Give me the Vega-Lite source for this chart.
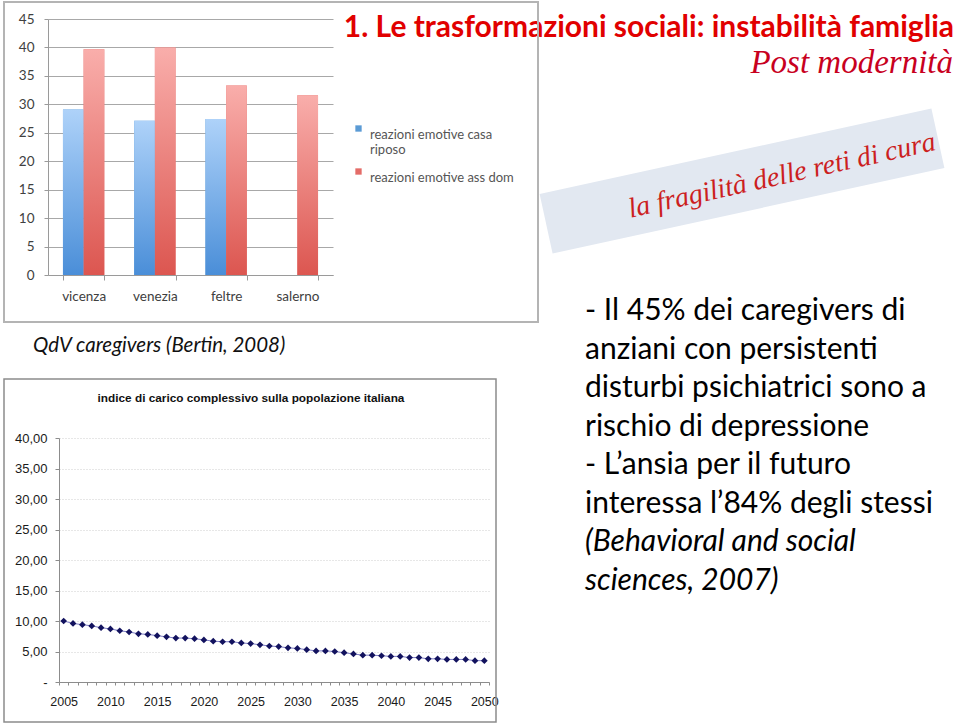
{
  "$schema": "https://vega.github.io/schema/vega-lite/v6.json",
  "width": 960,
  "height": 724,
  "padding": 0,
  "autosize": {"type": "none"},
  "background": "#ffffff",
  "config": {"view": {"stroke": null}},
  "layer": [
    {
      "data": {"values": [{"t": "la fragilità delle reti di cura"}]},
      "mark": {"type": "point", "shape": "M -1 -0.152 L 1 -0.152 L 1 0.152 L -1 0.152 Z", "filled": true, "fill": "#e2e8f1", "strokeWidth": 0, "opacity": 1, "size": 160801, "angle": -12.3},
      "encoding": {"x": {"value": 742}, "y": {"value": 181}}
    },
    {
      "data": {"values": [{"t": "la fragilità delle reti di cura"}]},
      "mark": {"type": "text", "font": "Liberation Serif", "fontStyle": "italic", "fontSize": 28, "fill": "#cc1f1f", "angle": -12.5, "align": "center", "baseline": "middle"},
      "encoding": {"x": {"value": 782}, "y": {"value": 176}, "text": {"field": "t"}}
    },
    {
      "data": {"values": [{"t": "1. Le trasformazioni sociali: instabilità famiglia"}]},
      "mark": {"type": "text", "font": "Lato", "fontWeight": "bold", "fontSize": 30, "fill": "#e10000", "align": "right", "baseline": "alphabetic"},
      "encoding": {"x": {"value": 954}, "y": {"value": 37}, "text": {"field": "t"}}
    },
    {
      "data": {"values": [{"t": "Post modernità"}]},
      "mark": {"type": "text", "font": "Liberation Serif", "fontStyle": "italic", "fontSize": 33, "fill": "#c8001e", "align": "right", "baseline": "alphabetic"},
      "encoding": {"x": {"value": 953}, "y": {"value": 73}, "text": {"field": "t"}}
    },
    {
      "data": {"values": [
        {"citta": "vicenza", "serie": "reazioni emotive casa riposo", "valore": 29.1},
        {"citta": "vicenza", "serie": "reazioni emotive ass dom", "valore": 39.7},
        {"citta": "venezia", "serie": "reazioni emotive casa riposo", "valore": 27.1},
        {"citta": "venezia", "serie": "reazioni emotive ass dom", "valore": 40.0},
        {"citta": "feltre", "serie": "reazioni emotive casa riposo", "valore": 27.4},
        {"citta": "feltre", "serie": "reazioni emotive ass dom", "valore": 33.3},
        {"citta": "salerno", "serie": "reazioni emotive ass dom", "valore": 31.6}
      ]},
      "encoding": {
        "x": {
          "field": "citta", "type": "nominal", "sort": ["vicenza", "venezia", "feltre", "salerno"],
          "scale": {"range": [48, 333], "paddingInner": 0.42, "paddingOuter": 0.21},
          "axis": {"orient": "bottom", "offset": -449, "title": null, "labelAngle": 0, "tickBand": "extent", "ticks": true, "tickSize": 5, "tickColor": "#9a9a9a", "domainColor": "#9a9a9a", "labelFont": "Lato", "labelFontSize": 13.5, "labelColor": "#404040", "labelPadding": 9, "grid": false}
        },
        "xOffset": {"field": "serie", "type": "nominal", "sort": ["reazioni emotive casa riposo", "reazioni emotive ass dom"], "scale": {"paddingInner": 0, "paddingOuter": 0}},
        "y": {
          "field": "valore", "type": "quantitative",
          "scale": {"domain": [0, 45], "range": [275, 19], "nice": false},
          "axis": {"orient": "left", "offset": -48, "title": null, "values": [0, 5, 10, 15, 20, 25, 30, 35, 40, 45], "grid": true, "gridColor": "#a8a8a8", "tickSize": 4, "tickColor": "#9a9a9a", "domainColor": "#9a9a9a", "labelFont": "Lato", "labelFontSize": 13.5, "labelColor": "#404040", "labelPadding": 10}
        }
      },
      "layer": [
        {
          "mark": {"type": "bar"},
          "encoding": {
            "color": {
              "field": "serie", "type": "nominal",
              "scale": {"domain": ["reazioni emotive casa riposo", "reazioni emotive ass dom"], "range": ["#5b9bd5", "#e46c68"]},
              "legend": {"title": null, "orient": "none", "legendX": 352, "legendY": 122, "symbolType": "square", "symbolSize": 40, "symbolStrokeWidth": 0, "labelFont": "Lato", "labelFontSize": 13, "labelColor": "#555555", "labelExpr": "datum.label == 'reazioni emotive casa riposo' ? ['reazioni emotive casa', 'riposo'] : datum.label", "labelBaseline": "top", "rowPadding": 8, "labelOffset": 5, "labelLimit": 300}
            }
          }
        },
        {
          "mark": {"type": "bar"},
          "encoding": {
            "color": {
              "condition": {"test": "datum.serie === 'reazioni emotive casa riposo'", "value": {"gradient": "linear", "x1": 0, "y1": 0, "x2": 0, "y2": 1, "stops": [{"offset": 0, "color": "#aed2f9"}, {"offset": 1, "color": "#4a8ed8"}]}},
              "value": {"gradient": "linear", "x1": 0, "y1": 0, "x2": 0, "y2": 1, "stops": [{"offset": 0, "color": "#f9aeab"}, {"offset": 1, "color": "#dc5650"}]}
            }
          }
        }
      ]
    },
    {
      "data": {"values": [{}]},
      "mark": {"type": "rect", "fill": "#ffffff", "fillOpacity": 0, "stroke": "#b4b4b4", "strokeWidth": 2},
      "encoding": {"x": {"value": 4}, "x2": {"value": 538}, "y": {"value": 2}, "y2": {"value": 322}}
    },
    {
      "data": {"values": [{"t": "QdV caregivers (Bertin, 2008)"}]},
      "mark": {"type": "text", "font": "Lato", "fontStyle": "italic", "fontSize": 20.5, "fill": "#111111", "align": "left", "baseline": "alphabetic"},
      "encoding": {"x": {"value": 33}, "y": {"value": 352}, "text": {"field": "t"}}
    },
    {
      "data": {"values": [{}]},
      "mark": {"type": "rect", "fill": "#ffffff", "fillOpacity": 0, "stroke": "#8c8c8c", "strokeWidth": 1.5},
      "encoding": {"x": {"value": 4}, "x2": {"value": 496}, "y": {"value": 379}, "y2": {"value": 722}}
    },
    {
      "data": {"values": [{"t": "indice di carico complessivo sulla popolazione italiana"}]},
      "mark": {"type": "text", "font": "Liberation Sans", "fontWeight": "bold", "fontSize": 11.8, "fill": "#111111", "align": "center", "baseline": "middle"},
      "encoding": {"x": {"value": 251}, "y": {"value": 398}, "text": {"field": "t"}}
    },
    {
      "data": {"values": [
        {"anno": 2005, "indice": 10.0}, {"anno": 2006, "indice": 9.6}, {"anno": 2007, "indice": 9.4}, {"anno": 2008, "indice": 9.2},
        {"anno": 2009, "indice": 8.9}, {"anno": 2010, "indice": 8.7}, {"anno": 2011, "indice": 8.4}, {"anno": 2012, "indice": 8.2},
        {"anno": 2013, "indice": 7.9}, {"anno": 2014, "indice": 7.8}, {"anno": 2015, "indice": 7.6}, {"anno": 2016, "indice": 7.4},
        {"anno": 2017, "indice": 7.2}, {"anno": 2018, "indice": 7.2}, {"anno": 2019, "indice": 7.1}, {"anno": 2020, "indice": 6.9},
        {"anno": 2021, "indice": 6.7}, {"anno": 2022, "indice": 6.6}, {"anno": 2023, "indice": 6.6}, {"anno": 2024, "indice": 6.4},
        {"anno": 2025, "indice": 6.3}, {"anno": 2026, "indice": 6.1}, {"anno": 2027, "indice": 5.9}, {"anno": 2028, "indice": 5.8},
        {"anno": 2029, "indice": 5.6}, {"anno": 2030, "indice": 5.5}, {"anno": 2031, "indice": 5.3}, {"anno": 2032, "indice": 5.1},
        {"anno": 2033, "indice": 5.1}, {"anno": 2034, "indice": 5.0}, {"anno": 2035, "indice": 4.8}, {"anno": 2036, "indice": 4.6},
        {"anno": 2037, "indice": 4.4}, {"anno": 2038, "indice": 4.4}, {"anno": 2039, "indice": 4.3}, {"anno": 2040, "indice": 4.2},
        {"anno": 2041, "indice": 4.2}, {"anno": 2042, "indice": 4.0}, {"anno": 2043, "indice": 4.0}, {"anno": 2044, "indice": 3.8},
        {"anno": 2045, "indice": 3.8}, {"anno": 2046, "indice": 3.7}, {"anno": 2047, "indice": 3.7}, {"anno": 2048, "indice": 3.7},
        {"anno": 2049, "indice": 3.5}, {"anno": 2050, "indice": 3.5}
      ]},
      "encoding": {
        "x": {
          "field": "anno", "type": "ordinal",
          "scale": {"type": "band", "range": [59, 489], "paddingInner": 0, "paddingOuter": 0},
          "axis": {"orient": "bottom", "offset": -42, "title": null, "tickBand": "extent", "ticks": true, "tickSize": 3, "tickColor": "#8c8c8c", "domainColor": "#8c8c8c", "labelAngle": 0, "labelExpr": "datum.value % 5 == 0 ? datum.value : ''", "labelFont": "Liberation Sans", "labelFontSize": 12.5, "labelColor": "#1a1a1a", "labelPadding": 10, "labelOverlap": false, "grid": false}
        },
        "y": {
          "field": "indice", "type": "quantitative",
          "scale": {"domain": [0, 40], "range": [682, 438], "nice": false},
          "axis": {"orient": "left", "offset": -59, "title": null, "values": [0, 5, 10, 15, 20, 25, 30, 35, 40], "labelExpr": "datum.value == 0 ? '-\u00a0\u00a0\u00a0\u00a0' : replace(format(datum.value, '.2f'), '.', ',')", "grid": true, "gridColor": "#cfcfcf", "gridDash": [1, 2], "tickSize": 4, "tickColor": "#8c8c8c", "domainColor": "#8c8c8c", "labelFont": "Liberation Sans", "labelFontSize": 13, "labelColor": "#1a1a1a", "labelPadding": 8}
        }
      },
      "layer": [
        {"mark": {"type": "line", "color": "#7c7cc4", "strokeWidth": 1}},
        {"mark": {"type": "point", "shape": "diamond", "filled": true, "color": "#12125e", "size": 45, "opacity": 1}}
      ]
    },
    {
      "data": {"values": [{"t": ["- Il 45% dei caregivers di", "anziani con persistenti", "disturbi psichiatrici sono a", "rischio di depressione", "- L’ansia per il futuro", "interessa l’84% degli stessi"]}]},
      "mark": {"type": "text", "font": "Lato", "fontSize": 30, "fill": "#000000", "align": "left", "baseline": "alphabetic", "lineHeight": 38.5},
      "encoding": {"x": {"value": 585}, "y": {"value": 320}, "text": {"field": "t"}}
    },
    {
      "data": {"values": [{"t": ["(Behavioral and social", "sciences, 2007)"]}]},
      "mark": {"type": "text", "font": "Lato", "fontStyle": "italic", "fontSize": 30, "fill": "#000000", "align": "left", "baseline": "alphabetic", "lineHeight": 38.5},
      "encoding": {"x": {"value": 585}, "y": {"value": 551}, "text": {"field": "t"}}
    }
  ],
  "resolve": {
    "scale": {"x": "independent", "y": "independent", "color": "independent", "xOffset": "independent"},
    "axis": {"x": "independent", "y": "independent"},
    "legend": {"color": "independent"}
  }
}
